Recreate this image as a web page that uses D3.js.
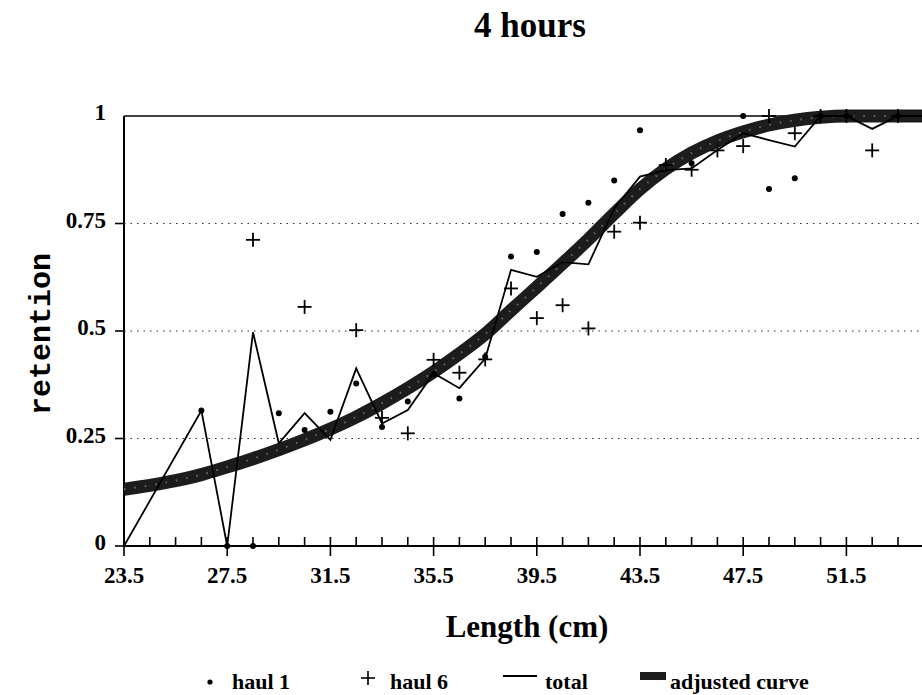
<!DOCTYPE html>
<html>
<head>
<meta charset="utf-8">
<script src="https://cdn.jsdelivr.net/npm/d3@7/dist/d3.min.js"></script>
<style>
  html, body { margin: 0; padding: 0; background: #fff; }
  svg { display: block; }
  text { font-family: "Liberation Serif", "Times New Roman", serif; fill: #000; }
</style>
</head>
<body>
<svg id="chart" width="922" height="695"></svg>
<script>
// ---- data ----
const title = "4 hours";
const xTitle = "Length (cm)";
const yTitle = "retention";
const xTickLabels = [23.5, 27.5, 31.5, 35.5, 39.5, 43.5, 47.5, 51.5];
const yTickLabels = [0, 0.25, 0.5, 0.75, 1];
const yTickText = ["0", "0.25", "0.5", "0.75", "1"];

const haul1Length = [26.5, 27.5, 28.5, 29.5, 30.5, 31.5, 32.5, 33.5, 34.5, 35.5, 36.5, 37.5, 38.5, 39.5, 40.5, 41.5, 42.5, 43.5, 45.5, 47.5, 48.5, 49.5, 50.5, 51.5, 53.5];
const haul1Value  = [0.315, 0, 0, 0.309, 0.27, 0.312, 0.378, 0.277, 0.336, 0.40, 0.343, 0.44, 0.673, 0.684, 0.772, 0.798, 0.85, 0.967, 0.89, 1.0, 0.83, 0.855, 1.0, 1.0, 1.0];

const haul6Length = [28.5, 30.5, 32.5, 33.5, 34.5, 35.5, 36.5, 37.5, 38.5, 39.5, 40.5, 41.5, 42.5, 43.5, 44.5, 45.5, 46.5, 47.5, 48.5, 49.5, 50.5, 51.5, 52.5, 53.5];
const haul6Value  = [0.712, 0.556, 0.502, 0.298, 0.262, 0.433, 0.403, 0.434, 0.599, 0.53, 0.56, 0.506, 0.731, 0.752, 0.886, 0.875, 0.92, 0.93, 1.0, 0.96, 1.0, 1.0, 0.92, 1.0];

const totalLength = [23.5, 26.5, 27.5, 28.5, 29.5, 30.5, 31.5, 32.5, 33.5, 34.5, 35.5, 36.5, 37.5, 38.5, 39.5, 40.5, 41.5, 42.5, 43.5, 44.5, 45.5, 46.5, 47.5, 48.5, 49.5, 50.5, 51.5, 52.5, 53.5, 54.5];
const totalValue  = [0, 0.315, 0, 0.497, 0.239, 0.309, 0.247, 0.413, 0.285, 0.316, 0.402, 0.367, 0.436, 0.642, 0.626, 0.66, 0.655, 0.785, 0.859, 0.874, 0.878, 0.921, 0.96, 0.944, 0.929, 1.0, 1.0, 0.97, 1.0, 1.0];

const curveLength = [23.5, 24.5, 25.5, 26.5, 27.5, 28.5, 29.5, 30.5, 31.5, 32.5, 33.5, 34.5, 35.5, 36.5, 37.5, 38.5, 39.5, 40.5, 41.5, 42.5, 43.5, 44.5, 45.5, 46.5, 47.5, 48.5, 49.5, 50.5, 51.5, 52.5, 53.5, 54.5, 55.5];
const curveValue  = [0.132, 0.141, 0.152, 0.166, 0.184, 0.203, 0.224, 0.247, 0.272, 0.300, 0.332, 0.367, 0.405, 0.447, 0.493, 0.548, 0.602, 0.657, 0.713, 0.773, 0.830, 0.877, 0.914, 0.942, 0.963, 0.979, 0.990, 0.997, 1.0, 1.0, 1.0, 1.0, 1.0];

const legendLabels = ["haul 1", "haul 6", "total", "adjusted curve"];

// ---- layout ----
const svg = d3.select("#chart");
const W = 922, H = 695;
const x = d3.scaleLinear().domain([23.5, 55.5]).range([124, 124 + 32 * 25.8]);
const y = d3.scaleLinear().domain([0, 1]).range([546, 116]);
const xRight = W;

svg.append("rect").attr("width", W).attr("height", H).attr("fill", "#fff");

// gridlines (dotted)
svg.append("g").selectAll("line").data(yTickLabels.filter(d => d > 0 && d < 1)).join("line")
  .attr("x1", x(23.5)).attr("x2", xRight)
  .attr("y1", d => y(d)).attr("y2", d => y(d))
  .attr("stroke", "#333").attr("stroke-width", 1.2).attr("stroke-dasharray", "1.5,5");

// top frame line
svg.append("line").attr("x1", x(23.5)).attr("x2", xRight).attr("y1", y(1)).attr("y2", y(1))
  .attr("stroke", "#000").attr("stroke-width", 1.6);

// x axis
const minorTicks = d3.range(23.5, 55.6, 1);
const xAxisG = svg.append("g").attr("transform", `translate(0,${y(0)})`);
xAxisG.append("line").attr("x1", x(23.5)).attr("x2", xRight).attr("stroke", "#000").attr("stroke-width", 2);
xAxisG.selectAll("line.minor").data(minorTicks).join("line").attr("class", "minor")
  .attr("x1", d => x(d)).attr("x2", d => x(d))
  .attr("y1", d => xTickLabels.includes(d) ? 10 : 0).attr("y2", -9)
  .attr("stroke", "#000").attr("stroke-width", 1.6);
xAxisG.selectAll("text").data(xTickLabels).join("text")
  .attr("x", d => x(d)).attr("y", 37)
  .attr("text-anchor", "middle").attr("font-weight", "bold").attr("font-size", 23)
  .text(d => d.toFixed(1));

// y axis
const yAxisG = svg.append("g").attr("transform", `translate(${x(23.5)},0)`);
yAxisG.append("line").attr("y1", y(0)).attr("y2", y(1)).attr("stroke", "#000").attr("stroke-width", 2);
yAxisG.selectAll("line.tick").data(yTickLabels.filter(d => d < 1)).join("line").attr("class", "tick")
  .attr("x1", -9).attr("x2", 0).attr("y1", d => y(d)).attr("y2", d => y(d))
  .attr("stroke", "#000").attr("stroke-width", 1.6);
yAxisG.selectAll("text").data(yTickLabels).join("text")
  .attr("x", -18).attr("y", d => y(d) + 4)
  .attr("text-anchor", "end").attr("font-weight", "bold").attr("font-size", 23)
  .text((d, i) => yTickText[i]);

// clip to plot
svg.append("clipPath").attr("id", "plotclip").append("rect")
  .attr("x", x(23.5)).attr("y", y(1) - 20).attr("width", xRight - x(23.5)).attr("height", y(0) - y(1) + 30);
const plot = svg.append("g").attr("clip-path", "url(#plotclip)");

// adjusted curve (thick band)
const curvePts = curveLength.map((d, i) => [d, curveValue[i]]);
const curveLine = d3.line().x(d => x(d[0])).y(d => y(d[1])).curve(d3.curveMonotoneX);
plot.append("path").attr("d", curveLine(curvePts)).attr("fill", "none")
  .attr("stroke", "#1c1c1c").attr("stroke-width", 13).attr("stroke-linecap", "butt");
plot.append("path").attr("d", curveLine(curvePts)).attr("fill", "none")
  .attr("stroke", "#8a8a8a").attr("stroke-width", 2).attr("stroke-dasharray", "1.5,9").attr("opacity", 0.7);

// total line
const totalPts = totalLength.map((d, i) => [d, totalValue[i]]);
plot.append("path").attr("d", d3.line().x(d => x(d[0])).y(d => y(d[1]))(totalPts))
  .attr("fill", "none").attr("stroke", "#000").attr("stroke-width", 1.8).attr("stroke-linejoin", "miter");

// haul 1 dots
plot.append("g").selectAll("circle").data(haul1Length.map((d, i) => [d, haul1Value[i]])).join("circle")
  .attr("cx", d => x(d[0])).attr("cy", d => y(d[1])).attr("r", 3).attr("fill", "#000");

// haul 6 plus
const plusSize = 7;
const plusG = plot.append("g").selectAll("g").data(haul6Length.map((d, i) => [d, haul6Value[i]])).join("g")
  .attr("transform", d => `translate(${x(d[0])},${y(d[1])})`);
plusG.append("line").attr("x1", -plusSize).attr("x2", plusSize).attr("stroke", "#000").attr("stroke-width", 1.8);
plusG.append("line").attr("y1", -plusSize).attr("y2", plusSize).attr("stroke", "#000").attr("stroke-width", 1.8);

// titles
svg.append("text").attr("x", 530).attr("y", 37).attr("text-anchor", "middle")
  .attr("font-weight", "bold").attr("font-size", 35).text(title);
svg.append("text").attr("x", 527).attr("y", 637).attr("text-anchor", "middle")
  .attr("font-weight", "bold").attr("font-size", 31).text(xTitle);
svg.append("text").attr("transform", "translate(50,334) rotate(-90)").attr("text-anchor", "middle")
  .style("font-family", "'Liberation Mono', 'DejaVu Sans Mono', monospace")
  .attr("font-weight", "bold").attr("font-size", 30).text(yTitle);

// legend
const lg = svg.append("g");
const ly = 689;
lg.append("circle").attr("cx", 210).attr("cy", 682).attr("r", 2.6).attr("fill", "#000");
lg.append("text").attr("x", 232).attr("y", ly).attr("font-weight", "bold").attr("font-size", 22).text(legendLabels[0]);
lg.append("line").attr("x1", 361).attr("x2", 375).attr("y1", 678).attr("y2", 678).attr("stroke", "#000").attr("stroke-width", 1.6);
lg.append("line").attr("x1", 368).attr("x2", 368).attr("y1", 671).attr("y2", 685).attr("stroke", "#000").attr("stroke-width", 1.6);
lg.append("text").attr("x", 390).attr("y", ly).attr("font-weight", "bold").attr("font-size", 22).text(legendLabels[1]);
lg.append("line").attr("x1", 503).attr("x2", 537).attr("y1", 676).attr("y2", 676).attr("stroke", "#000").attr("stroke-width", 1.8);
lg.append("text").attr("x", 545).attr("y", ly).attr("font-weight", "bold").attr("font-size", 22).text(legendLabels[2]);
lg.append("rect").attr("x", 640).attr("y", 672).attr("width", 26).attr("height", 8).attr("fill", "#1c1c1c");
lg.append("text").attr("x", 670).attr("y", ly).attr("font-weight", "bold").attr("font-size", 22).text(legendLabels[3]);
</script>
</body>
</html>
